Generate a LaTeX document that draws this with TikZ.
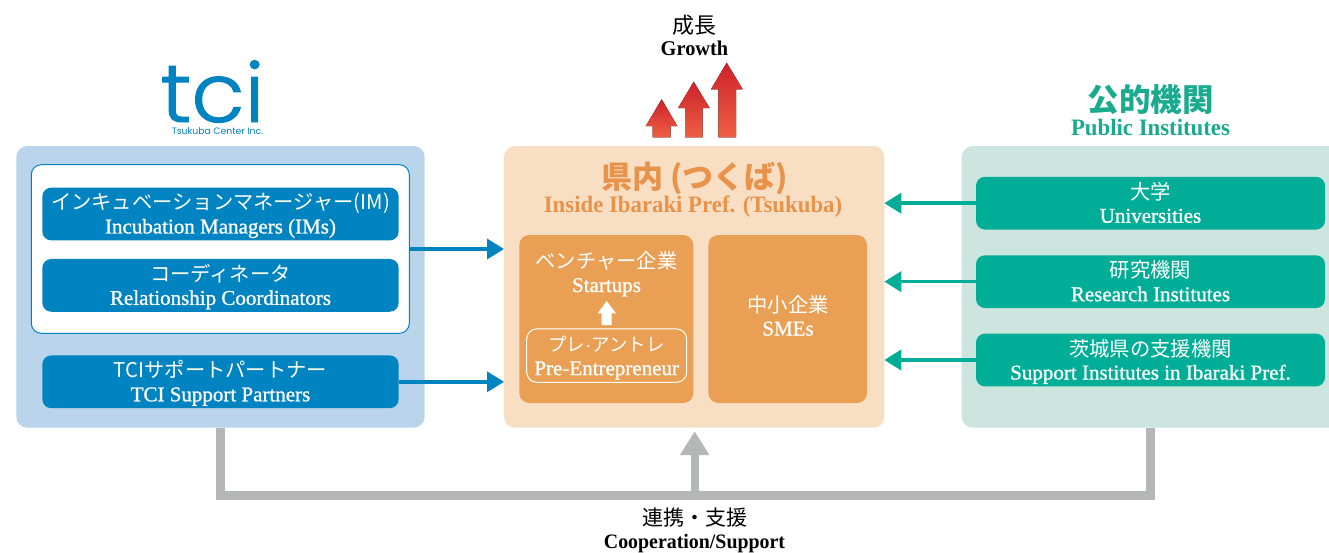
\documentclass[tikz,border=0pt]{standalone}
\usepackage{fontspec}
\usetikzlibrary{arrows.meta,calc}
\setmainfont{Liberation Serif}
\normallineskiplimit=-30pt
\lineskiplimit=-30pt
\newfontfamily\jp{Noto Sans CJK JP}
\newfontfamily\en[FakeBold=1.0]{Liberation Serif}
\newfontfamily\enb[FakeStretch=0.97]{Liberation Serif}
\newfontfamily\logo[FakeBold=1.2,FakeStretch=1.06]{Poppins Light}
\newfontfamily\logosm{Poppins}
\definecolor{cblue}{HTML}{0083C1}
\definecolor{cbluebg}{HTML}{BAD5EB}
\definecolor{corg}{HTML}{E9A055}
\definecolor{corgt}{HTML}{E8924A}
\definecolor{corgbg}{HTML}{F8DFC4}
\definecolor{cteal}{HTML}{00AD96}
\definecolor{ctealt}{HTML}{1AAB8F}
\definecolor{ctealbg}{HTML}{CCE6DF}
\definecolor{cgray}{HTML}{B5B6B6}
\definecolor{cred}{HTML}{CC2229}
\definecolor{cred2}{HTML}{EE6045}
\newcommand{\tl}[3][21]{\rule{0pt}{20pt}{\jp #2}\\\rule[-4.5pt]{0pt}{4.5pt}{\en\fontsize{#1}{23.5}\selectfont #3}}
\tikzset{
 x=1pt,y=-1pt,
 panel/.style={rounded corners=11pt,inner sep=0pt,outer sep=0pt,minimum width=#1},
 txt/.style={align=center,inner sep=0pt,font=\fontsize{20.3}{23.5}\selectfont},
 bbox/.style={fill=cblue,text=white,rounded corners=9pt,inner sep=0pt,outer sep=0pt,align=center,minimum width=356.4pt,minimum height=52.8pt,font=\fontsize{20.3}{23.5}\selectfont},
 tbox/.style={bbox,fill=cteal,minimum width=349pt},
 obox/.style={fill=corg,rounded corners=10pt,inner sep=0pt,outer sep=0pt,align=center,text=white,minimum height=168pt},
 barrow/.style={draw=cblue,line width=3.6pt,-{Triangle[length=17pt,width=20pt]}},
 tarrow/.style={draw=cteal,line width=3.6pt,-{Triangle[length=17pt,width=20pt]}},
 garrow/.style={draw=cgray,line width=8.5pt},
 redarrow/.style={top color=cred,bottom color=cred2,draw=none},
}
\begin{document}
\begin{tikzpicture}
\useasboundingbox (0,0) rectangle (1329,552);
\clip (0,0) rectangle (1329,552);
% panels
\node[panel=408.4pt,fill=cbluebg,minimum height=281.7pt] (left) at (220.5,286.85) {};
\node[panel=380pt,fill=corgbg,minimum width=380.3pt,minimum height=281.7pt] (mid) at (694.15,286.85) {};
\node[panel=378pt,fill=ctealbg,minimum height=281.7pt] (right) at (1150.7,286.85) {};
% gray connector
\coordinate (gl) at (left.south);
\coordinate (gr) at (right.south);
\coordinate (gtip) at ($(mid.south)+(0.5,3.5)$);
\coordinate (gmid) at ($(gl)!0.5!(gr)+(0,67.8)$);
\draw[garrow] (gl) -- ++(0,67.8) -- ($(gr)+(0,67.8)$) -- (gr);
\draw[draw=cgray,line width=8pt,-{Triangle[length=24pt,width=28pt]}] ($(gmid-|gtip)$) -- (gtip);
% left
\node[fill=white,draw=cblue,line width=1pt,rounded corners=10pt,inner sep=0pt,outer sep=0pt,minimum width=378pt,minimum height=168.6pt] (wbox) at (220.3,249) {};
\node[bbox] (im) at (220.5,214) {\tl{インキュベーションマネージャー(IM)}{Incubation Managers (IMs)}};
\node[bbox] (rc) at (220.5,285.35) {\tl{コーディネータ}{Relationship Coordinators}};
\node[bbox] (sp) at (220.5,381.8) {\tl{TCIサポートパートナー}{TCI Support Partners}};
\draw[barrow] (wbox.east) -- (wbox.east -| mid.west);
\draw[barrow] (sp.east) -- (sp.east -| mid.west);
% logo
\node[inner sep=0pt,text=cblue,anchor=base] (tci) at (212.5,122) {\logo\fontsize{82}{82}\selectfont tci};
\node[inner sep=0pt,text=cblue] (tsu) at (217.5,131) {\logosm\fontsize{9.3}{9.3}\selectfont Tsukuba Center Inc.};
% growth
\node[txt] (gro) at (694.5,35.5) {{\jp\fontsize{22}{23}\selectfont 成長}\\[-1.5pt]{\enb\bfseries\fontsize{21}{21}\selectfont Growth}};
\fill[redarrow] (661.7,99.3) -- (677.3,126) -- (670.7,126) -- (670.7,137.3) -- (652.7,137.3) -- (652.7,126) -- (645.7,126) -- cycle;
\fill[redarrow] (693.7,81.7) -- (709.7,108) -- (702.7,108) -- (702.7,137.3) -- (685,137.3) -- (685,108) -- (678,108) -- cycle;
\fill[redarrow] (726.7,62.7) -- (742.7,89.3) -- (736,89.3) -- (736,137.3) -- (718.3,137.3) -- (718.3,89.3) -- (711,89.3) -- cycle;
% mid
\node[txt,text=corgt] (midt) at (694.5,178) {\jp\bfseries\fontsize{31}{33}\selectfont 県内 (つくば)};
\node[txt,text=corgt] (mide) at (693,206.7) {\enb\bfseries\fontsize{23.5}{23}\selectfont Inside Ibaraki Pref. (Tsukuba)};
\node[obox,minimum width=174pt] (st) at (606.3,319) {};
\node[obox,minimum width=158.7pt] (sme) at (787.65,319) {};
\node[txt,text=white] (stt) at (606.5,272.5) {\tl{ベンチャー企業}{Startups}};
\node[txt,text=white] (smet) at (788,316) {\tl{中小企業}{SMEs}};
\node[draw=white,line width=1pt,rounded corners=10pt,inner sep=0pt,outer sep=0pt,minimum width=160pt,minimum height=53.3pt,align=center,text=white,font=\fontsize{18.5}{23.5}\selectfont] (pre) at (606.7,355.6) {\tl{プレ{\fontspec{Liberation Sans}·}アントレ}{Pre-Entrepreneur}};
\fill[white] (606.7,301) -- (616,313.3) -- (611.7,313.3) -- (611.7,325) -- (601.7,325) -- (601.7,313.3) -- (597.7,313.3) -- cycle;
% right
\node[txt,text=ctealt] (rt) at (1150.5,99.3) {\jp\bfseries\fontsize{31.5}{33}\selectfont 公的機関};
\node[txt,text=ctealt] (re) at (1150.5,127.3) {\enb\bfseries\fontsize{23.5}{23}\selectfont Public Institutes};
\node[tbox] (uni) at (1150.5,203.2) {\tl{大学}{Universities}};
\node[tbox] (res) at (1150.5,281.65) {\tl{研究機関}{Research Institutes}};
\node[tbox] (sup) at (1150.5,360) {\tl{茨城県の支援機関}{Support Institutes in Ibaraki Pref.}};
\draw[tarrow] (uni.west) -- (uni.west -| mid.east);
\draw[tarrow] (res.west) -- (res.west -| mid.east);
\draw[tarrow] (sup.west) -- (sup.west -| mid.east);
% bottom
\node[txt] (coop) at (694.5,530.5) {{\jp\fontsize{21}{23}\selectfont 連携・支援}\\{\enb\bfseries\fontsize{20.5}{21}\selectfont Cooperation/Support}};
\end{tikzpicture}
\end{document}
